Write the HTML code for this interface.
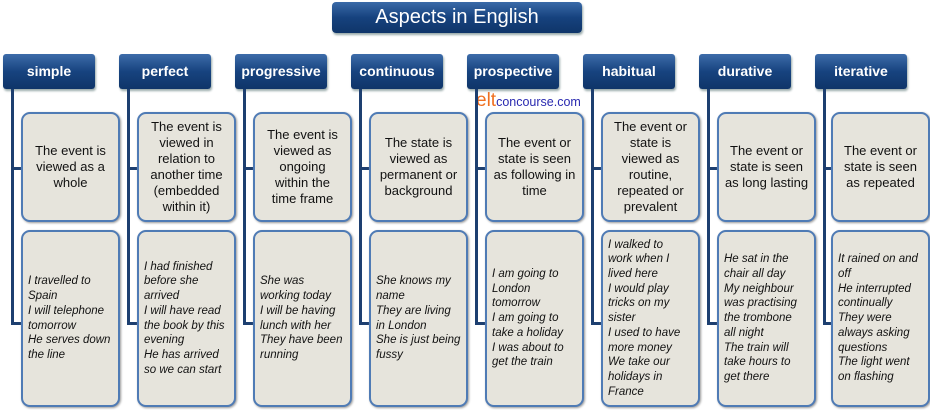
<!DOCTYPE html>
<html><head><meta charset="utf-8"><style>
body{margin:0;width:930px;height:410px;background:#fff;position:relative;overflow:hidden;font-family:"Liberation Sans",sans-serif}
.t{position:absolute;left:332px;top:2px;width:250px;height:31px;border-radius:4px;background:linear-gradient(#3a6aa8,#16427e 50%,#0f3569);color:#fff;font-size:20px;text-align:center;line-height:31px;box-shadow:1px 2px 2px #9aa}
.h{position:absolute;top:54px;width:92px;height:35px;border-radius:3px;background:linear-gradient(#3d6ca9,#17437f 50%,#0f3569);color:#fff;font-weight:bold;font-size:14px;text-align:center;line-height:35px;box-shadow:1px 2px 2px #9aa}
.v{position:absolute;top:89px;width:3px;height:236px;background:#1d3f70}
.c{position:absolute;height:3px;width:10px;background:#1d3f70}
.d,.e{position:absolute;width:95px;border:2px solid #4f7bb5;border-radius:9px;background:#e6e4dc;display:flex;align-items:center;box-shadow:1px 1px 2px #999}
.d{top:112px;height:106px;justify-content:center;text-align:center;font-size:13px;line-height:16px;color:#111}
.e{top:230px;height:173px;font-style:italic;font-size:11.5px;line-height:14.7px;color:#111}
.e div{padding-left:5px;white-space:nowrap}
.logo{position:absolute;left:476px;top:90px;font-size:12.5px;color:#2a2ab0}
.logo b{color:#f07020;font-weight:normal;font-size:19px}
</style></head><body>
<div class="t">Aspects in English</div>
<div class="logo"><b>elt</b>concourse.com</div>

<div class="h" style="left:3px">simple</div>
<div class="v" style="left:11px"></div><div class="c" style="left:11px;top:167px"></div><div class="c" style="left:11px;top:322px"></div>
<div class="d" style="left:21px">The event is<br>viewed as a<br>whole</div>
<div class="e" style="left:21px"><div>I travelled to<br>Spain<br>I will telephone<br>tomorrow<br>He serves down<br>the line</div></div>

<div class="h" style="left:119px">perfect</div>
<div class="v" style="left:127px"></div><div class="c" style="left:127px;top:167px"></div><div class="c" style="left:127px;top:322px"></div>
<div class="d" style="left:137px">The event is<br>viewed in<br>relation to<br>another time<br>(embedded<br>within it)</div>
<div class="e" style="left:137px"><div>I had finished<br>before she<br>arrived<br>I will have read<br>the book by this<br>evening<br>He has arrived<br>so we can start</div></div>

<div class="h" style="left:235px">progressive</div>
<div class="v" style="left:243px"></div><div class="c" style="left:243px;top:167px"></div><div class="c" style="left:243px;top:322px"></div>
<div class="d" style="left:253px">The event is<br>viewed as<br>ongoing<br>within the<br>time frame</div>
<div class="e" style="left:253px"><div>She was<br>working today<br>I will be having<br>lunch with her<br>They have been<br>running</div></div>

<div class="h" style="left:351px">continuous</div>
<div class="v" style="left:359px"></div><div class="c" style="left:359px;top:167px"></div><div class="c" style="left:359px;top:322px"></div>
<div class="d" style="left:369px">The state is<br>viewed as<br>permanent or<br>background</div>
<div class="e" style="left:369px"><div>She knows my<br>name<br>They are living<br>in London<br>She is just being<br>fussy</div></div>

<div class="h" style="left:467px">prospective</div>
<div class="v" style="left:475px"></div><div class="c" style="left:475px;top:167px"></div><div class="c" style="left:475px;top:322px"></div>
<div class="d" style="left:485px">The event or<br>state is seen<br>as following in<br>time</div>
<div class="e" style="left:485px"><div>I am going to<br>London<br>tomorrow<br>I am going to<br>take a holiday<br>I was about to<br>get the train</div></div>

<div class="h" style="left:583px">habitual</div>
<div class="v" style="left:591px"></div><div class="c" style="left:591px;top:167px"></div><div class="c" style="left:591px;top:322px"></div>
<div class="d" style="left:601px">The event or<br>state is<br>viewed as<br>routine,<br>repeated or<br>prevalent</div>
<div class="e" style="left:601px"><div>I walked to<br>work when I<br>lived here<br>I would play<br>tricks on my<br>sister<br>I used to have<br>more money<br>We take our<br>holidays in<br>France</div></div>

<div class="h" style="left:699px">durative</div>
<div class="v" style="left:707px"></div><div class="c" style="left:707px;top:167px"></div><div class="c" style="left:707px;top:322px"></div>
<div class="d" style="left:717px">The event or<br>state is seen<br>as long lasting</div>
<div class="e" style="left:717px"><div>He sat in the<br>chair all day<br>My neighbour<br>was practising<br>the trombone<br>all night<br>The train will<br>take hours to<br>get there</div></div>

<div class="h" style="left:815px">iterative</div>
<div class="v" style="left:823px"></div><div class="c" style="left:823px;top:167px"></div><div class="c" style="left:823px;top:322px"></div>
<div class="d" style="left:831px">The event or<br>state is seen<br>as repeated</div>
<div class="e" style="left:831px"><div>It rained on and<br>off<br>He interrupted<br>continually<br>They were<br>always asking<br>questions<br>The light went<br>on flashing</div></div>
</body></html>
